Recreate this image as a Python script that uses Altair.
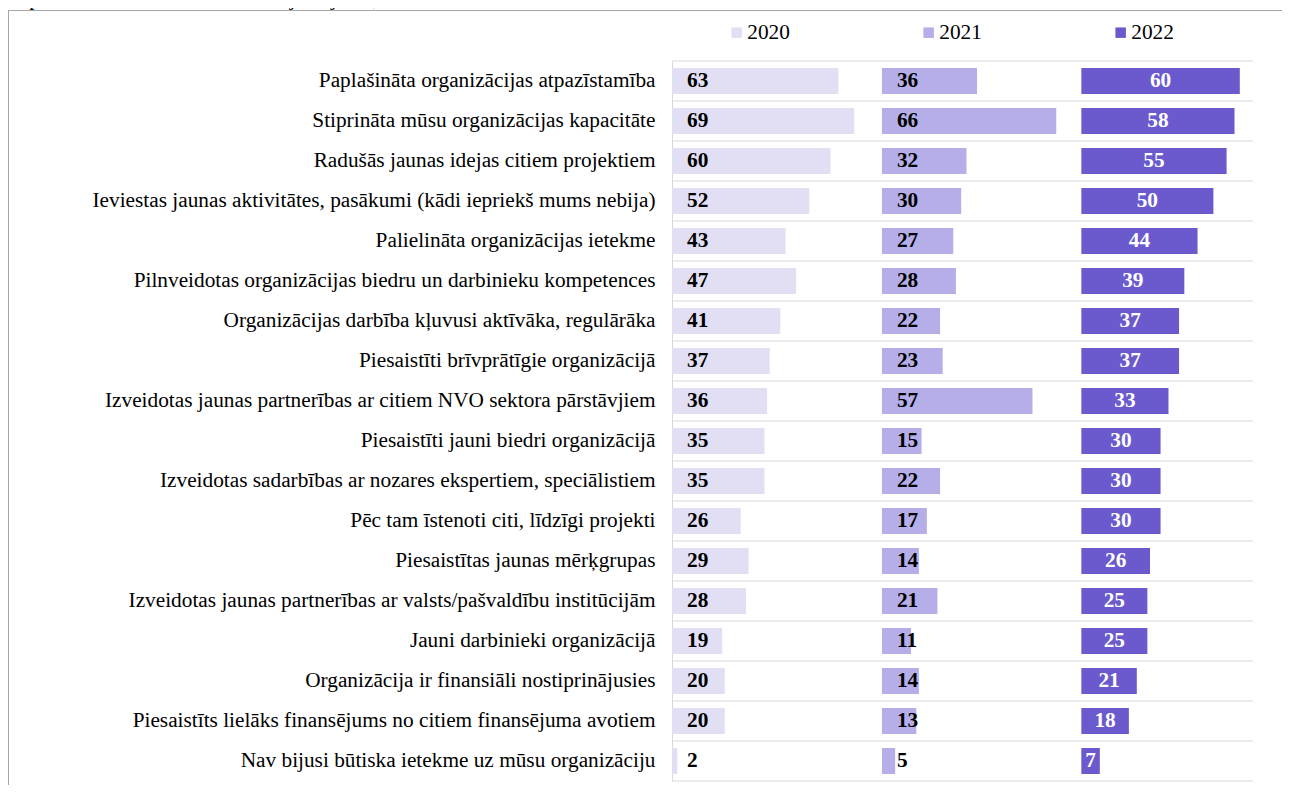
import altair as alt
import pandas as pd

# ---------------- data ----------------
categories = [
    "Paplašināta organizācijas atpazīstamība",
    "Stiprināta mūsu organizācijas kapacitāte",
    "Radušās jaunas idejas citiem projektiem",
    "Ieviestas jaunas aktivitātes, pasākumi (kādi iepriekš mums nebija)",
    "Palielināta organizācijas ietekme",
    "Pilnveidotas organizācijas biedru un darbinieku kompetences",
    "Organizācijas darbība kļuvusi aktīvāka, regulārāka",
    "Piesaistīti brīvprātīgie organizācijā",
    "Izveidotas jaunas partnerības ar citiem NVO sektora pārstāvjiem",
    "Piesaistīti jauni biedri organizācijā",
    "Izveidotas sadarbības ar nozares ekspertiem, speciālistiem",
    "Pēc tam īstenoti citi, līdzīgi projekti",
    "Piesaistītas jaunas mērķgrupas",
    "Izveidotas jaunas partnerības ar valsts/pašvaldību institūcijām",
    "Jauni darbinieki organizācijā",
    "Organizācija ir finansiāli nostiprinājusies",
    "Piesaistīts lielāks finansējums no citiem finansējuma avotiem",
    "Nav bijusi būtiska ietekme uz mūsu organizāciju",
]
values_2020 = [63, 69, 60, 52, 43, 47, 41, 37, 36, 35, 35, 26, 29, 28, 19, 20, 20, 2]
values_2021 = [36, 66, 32, 30, 27, 28, 22, 23, 57, 15, 22, 17, 14, 21, 11, 14, 13, 5]
values_2022 = [60, 58, 55, 50, 44, 39, 37, 37, 33, 30, 30, 30, 26, 25, 25, 21, 18, 7]
years = ["2020", "2021", "2022"]
note = "kopumā? Piezīme: Vairākatbilžu jautājums, atbilžu summa > 100%."

# ---------------- styles / layout ----------------
colors = ["#e2dff5", "#b5aee8", "#6a5acd"]
FONT = "Liberation Serif"
FS = 21.3
GRID = "#d9d9d9"
FRAME = "#a6a6a6"
W, H = 581, 720
PAD = {"left": 664, "top": 53, "right": 29, "bottom": 4}

rows = []
for i, c in enumerate(categories):
    for yr, vals in zip(years, [values_2020, values_2021, values_2022]):
        rows.append({"category": c, "year": yr, "value": vals[i]})
df = pd.DataFrame(rows)
cat_df = pd.DataFrame({"category": categories})

xscale = alt.Scale(domain=[0, 220], nice=False, zero=False)
yenc = alt.Y(
    "category:N",
    sort=categories,
    scale=alt.Scale(paddingInner=0, paddingOuter=0),
    axis=alt.Axis(
        title=None, labelFont=FONT, labelFontSize=FS, labelColor="black",
        labelPadding=17, labelLimit=800, ticks=False, grid=False,
        domainColor=GRID, domainWidth=1,
    ),
)

base = alt.Chart(df).transform_calculate(
    start="datum.year == '2020' ? 0 : (datum.year == '2021' ? 79.5 : 155)"
).transform_calculate(
    end="datum.start + datum.value",
    mid="datum.start + datum.value / 2",
)

grid_top = alt.Chart(cat_df).mark_rule(color=GRID, yOffset=-20, strokeWidth=1).encode(
    y=alt.Y("category:N", sort=categories)
)
grid_bottom = alt.Chart(cat_df).transform_filter(
    alt.datum.category == categories[-1]
).mark_rule(color=GRID, yOffset=20, strokeWidth=1).encode(
    y=alt.Y("category:N", sort=categories)
)

bars = base.mark_bar(size=26).encode(
    x=alt.X("end:Q", scale=xscale, axis=None),
    x2="start:Q",
    y=yenc,
    color=alt.Color(
        "year:N",
        scale=alt.Scale(domain=years, range=colors),
        legend=alt.Legend(
            orient="none", legendX=54, legendY=-39, direction="horizontal",
            title=None, symbolType="square", symbolSize=110, symbolStrokeWidth=0,
            labelFont=FONT, labelFontSize=FS, labelColor="black", labelOffset=0,
            columnPadding=128, padding=0,
        ),
    ),
)

labels_dark = base.transform_filter(alt.datum.year != "2022").mark_text(
    align="left", baseline="middle", dx=15, font=FONT, fontSize=FS,
    fontWeight="bold", color="black",
).encode(
    x=alt.X("start:Q", scale=xscale),
    y=alt.Y("category:N", sort=categories),
    text="value:Q",
)

labels_light = base.transform_filter(alt.datum.year == "2022").mark_text(
    align="center", baseline="middle", font=FONT, fontSize=FS,
    fontWeight="bold", color="white",
).encode(
    x=alt.X("mid:Q", scale=xscale),
    y=alt.Y("category:N", sort=categories),
    text="value:Q",
)

frame_top = alt.Chart(pd.DataFrame({"a": [0]})).mark_rule(color=FRAME).encode(
    x=alt.value(-PAD["left"]), x2=alt.value(W + PAD["right"]), y=alt.value(-PAD["top"] + 2.5)
)
frame_left = alt.Chart(pd.DataFrame({"a": [0]})).mark_rule(color=FRAME).encode(
    x=alt.value(-PAD["left"] + 0.5), y=alt.value(-PAD["top"] + 2.5), y2=alt.value(H + PAD["bottom"])
)
note_text = alt.Chart(pd.DataFrame({"t": [note]})).mark_text(
    align="left", baseline="alphabetic", font=FONT, fontSize=FS, color="black"
).encode(x=alt.value(-PAD["left"]), y=alt.value(-PAD["top"] - 3), text="t:N")

chart = alt.layer(
    grid_top, grid_bottom, bars, labels_dark, labels_light,
    frame_top, frame_left, note_text,
).properties(
    width=W, height=H,
    autosize=alt.AutoSizeParams(type="none"),
    padding=PAD,
).configure(
    background="white", font=FONT,
).configure_view(
    stroke=None,
).configure_legend(
    labelFont=FONT, labelFontSize=FS,
)

chart.save("out.html", embed_options={"renderer": "svg", "actions": False})
